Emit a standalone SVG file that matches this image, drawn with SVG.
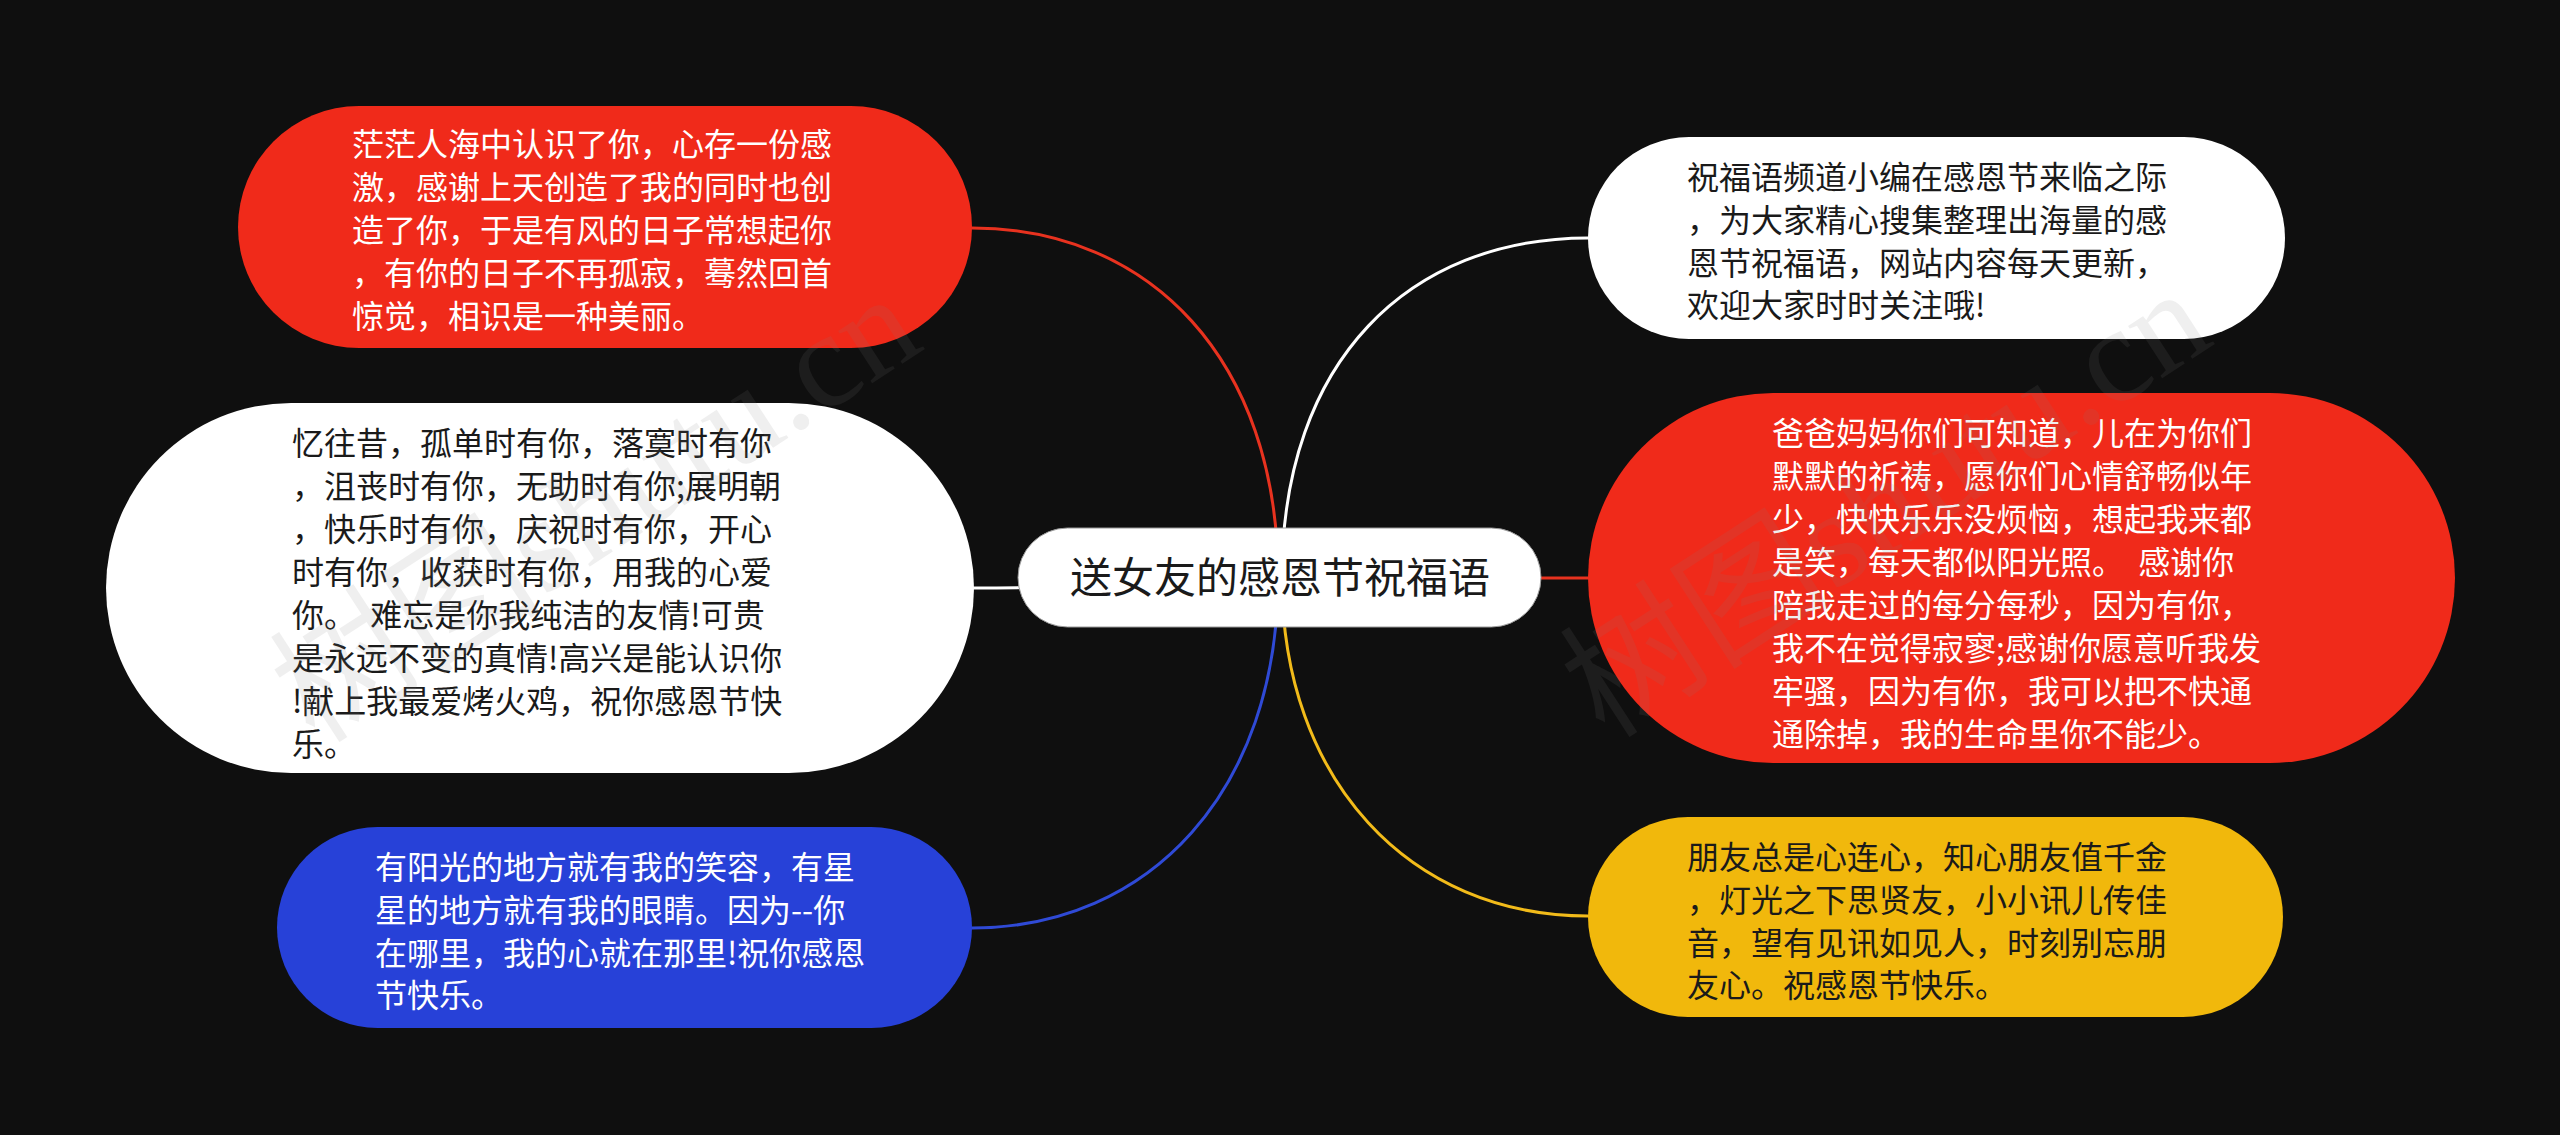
<svg xmlns="http://www.w3.org/2000/svg" width="2560" height="1135" viewBox="0 0 2560 1135">
<style>
.t{font-family:"Noto Sans CJK SC","Noto Sans",sans-serif;font-size:32px}
.w{fill:#ffffff}
.k{fill:#1a1a1a}
.ln{fill:none;stroke-width:3;stroke-linecap:round}
.wm{font-family:"Liberation Serif","Noto Sans CJK SC",serif;font-size:136px;fill:#808080;opacity:0.12}
</style>
<rect x="0" y="0" width="2560" height="1135" fill="#0f0f0f"/>
<g id="connectors">
<path class="ln" stroke="#e8321f" d="M1278,577 C1278,360 1150,228 972,228"/>
<path class="ln" stroke="#ffffff" d="M1282,577 C1282,360 1410,238 1588,238"/>
<path class="ln" stroke="#ffffff" d="M1280,578 C1130,578 1130,588 974,588"/>
<path class="ln" stroke="#e8321f" d="M1280,578 L1588,578"/>
<path class="ln" stroke="#2f4ad6" d="M1278,578 C1278,790 1150,928 972,928"/>
<path class="ln" stroke="#f2bb1a" d="M1282,578 C1282,780 1410,916 1588,916"/>
</g>
<g id="node-root">
<rect x="1018" y="528" width="523" height="99" rx="49.5" fill="#ffffff" stroke="#999" stroke-width="1"/>
<text x="1280" y="593" text-anchor="middle" font-family="Noto Sans CJK SC, sans-serif" font-size="42" fill="#1a1a1a">送女友的感恩节祝福语</text>
</g>
<g id="node-l1">
<rect x="238" y="106" width="734" height="242" rx="121" fill="#f02a1a"/>
<text class="t w" x="352"><tspan x="352" y="156">茫茫人海中认识了你，心存一份感</tspan><tspan x="352" y="199">激，感谢上天创造了我的同时也创</tspan><tspan x="352" y="242">造了你，于是有风的日子常想起你</tspan><tspan x="352" y="285">，有你的日子不再孤寂，蓦然回首</tspan><tspan x="352" y="328">惊觉，相识是一种美丽。</tspan></text>
</g>
<g id="node-l2">
<rect x="106" y="403" width="868" height="370" rx="185" fill="#ffffff"/>
<text class="t k" x="292" xml:space="preserve"><tspan x="292" y="455">忆往昔，孤单时有你，落寞时有你</tspan><tspan x="292" y="498">，沮丧时有你，无助时有你;展明朝</tspan><tspan x="292" y="541">，快乐时有你，庆祝时有你，开心</tspan><tspan x="292" y="584">时有你，收获时有你，用我的心爱</tspan><tspan x="292" y="627">你。  难忘是你我纯洁的友情!可贵</tspan><tspan x="292" y="670">是永远不变的真情!高兴是能认识你</tspan><tspan x="292" y="713">!献上我最爱烤火鸡，祝你感恩节快</tspan><tspan x="292" y="756">乐。</tspan></text>
</g>
<g id="node-l3">
<rect x="277" y="827" width="695" height="201" rx="100.5" fill="#2741d8"/>
<text class="t w" x="375"><tspan x="375" y="879">有阳光的地方就有我的笑容，有星</tspan><tspan x="375" y="922">星的地方就有我的眼睛。因为--你</tspan><tspan x="375" y="965">在哪里，我的心就在那里!祝你感恩</tspan><tspan x="375" y="1007">节快乐。</tspan></text>
</g>
<g id="node-r1">
<rect x="1588" y="137" width="697" height="202" rx="101" fill="#ffffff"/>
<text class="t k" x="1687"><tspan x="1687" y="189">祝福语频道小编在感恩节来临之际</tspan><tspan x="1687" y="232">，为大家精心搜集整理出海量的感</tspan><tspan x="1687" y="275">恩节祝福语，网站内容每天更新，</tspan><tspan x="1687" y="317">欢迎大家时时关注哦!</tspan></text>
</g>
<g id="node-r2">
<rect x="1588" y="393" width="867" height="370" rx="185" fill="#f02a1a"/>
<text class="t w" x="1772" xml:space="preserve"><tspan x="1772" y="445">爸爸妈妈你们可知道，儿在为你们</tspan><tspan x="1772" y="488">默默的祈祷，愿你们心情舒畅似年</tspan><tspan x="1772" y="531">少，快快乐乐没烦恼，想起我来都</tspan><tspan x="1772" y="574">是笑，每天都似阳光照。  感谢你</tspan><tspan x="1772" y="617">陪我走过的每分每秒，因为有你，</tspan><tspan x="1772" y="660">我不在觉得寂寥;感谢你愿意听我发</tspan><tspan x="1772" y="703">牢骚，因为有你，我可以把不快通</tspan><tspan x="1772" y="746">通除掉，我的生命里你不能少。</tspan></text>
</g>
<g id="node-r3">
<rect x="1588" y="817" width="695" height="200" rx="100" fill="#f1b80c"/>
<text class="t k" x="1687"><tspan x="1687" y="869">朋友总是心连心，知心朋友值千金</tspan><tspan x="1687" y="912">，灯光之下思贤友，小小讯儿传佳</tspan><tspan x="1687" y="955">音，望有见讯如见人，时刻别忘朋</tspan><tspan x="1687" y="997">友心。祝感恩节快乐。</tspan></text>
</g>
<g id="watermarks">
<text class="wm" transform="translate(315,745) rotate(-33)">树图shutu.cn</text>
<text class="wm" transform="translate(1605,740) rotate(-33)">树图shutu.cn</text>
</g>
</svg>
